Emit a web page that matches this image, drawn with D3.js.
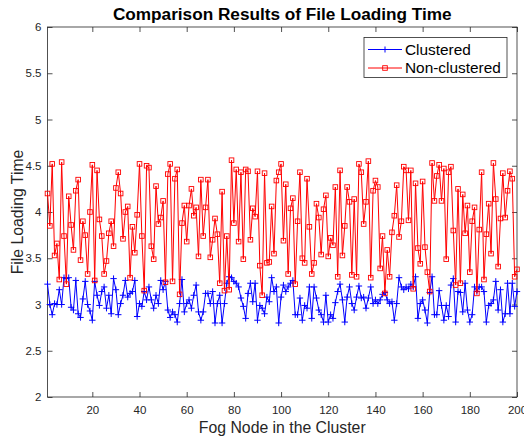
<!DOCTYPE html>
<html><head><meta charset="utf-8">
<script src="https://cdn.jsdelivr.net/npm/d3@7/dist/d3.min.js"></script>
<style>body{margin:0;background:#fff}svg{display:block;font-family:"Liberation Sans",Arial,sans-serif}</style>
</head><body><svg id="c" width="524" height="441"></svg>
<script>
const clustered = [
3.22,3.00,2.89,3.01,3.00,3.16,3.00,3.29,3.28,3.29,2.97,2.94,3.26,2.90,2.86,3.06,3.25,3.00,2.93,2.83,
3.25,3.10,2.99,3.14,3.19,2.96,3.10,2.90,3.28,3.16,2.89,3.01,3.10,3.26,3.08,3.12,3.14,3.26,2.87,3.01,
2.98,3.14,3.05,3.19,3.05,2.96,3.10,3.01,3.26,3.16,3.25,2.94,2.86,2.92,2.89,2.81,3.01,3.27,2.92,3.01,
3.05,2.96,3.10,3.21,2.92,2.83,2.92,3.12,3.12,3.01,3.14,2.80,3.01,3.10,2.80,3.01,3.23,3.30,3.29,3.25,
3.23,3.19,3.07,2.98,2.85,3.12,3.23,3.03,3.23,2.83,2.99,2.96,2.90,3.08,3.03,3.29,3.14,3.19,2.80,3.08,
3.21,3.14,3.19,3.23,3.26,2.89,2.89,3.07,2.83,2.99,2.96,3.19,2.85,3.19,3.07,2.94,2.89,2.81,3.10,2.81,2.89,
2.85,3.02,3.14,3.22,3.05,2.81,3.08,3.19,3.01,2.94,3.08,3.20,3.07,3.08,2.96,3.07,3.19,3.01,3.05,3.01,
3.05,3.11,3.13,3.05,3.01,3.03,2.83,3.01,3.29,3.19,3.16,3.19,3.17,3.22,3.19,3.30,2.85,3.01,3.05,2.94,2.80,
3.13,3.30,2.89,2.89,3.15,2.99,2.83,2.99,2.87,3.21,3.28,2.81,3.14,3.13,2.92,3.23,2.94,2.81,2.89,
3.19,3.14,3.19,3.19,3.14,2.81,2.99,3.01,3.05,3.25,2.94,3.16,2.81,2.90,3.23,2.90,3.23,2.98,3.14];
const nonClustered = [
4.20,3.85,4.52,3.53,3.66,3.27,4.54,3.74,3.22,4.17,3.86,3.59,4.23,4.35,3.48,3.90,3.75,3.33,4.00,4.51,
3.26,4.45,3.92,3.74,3.33,3.47,3.77,3.90,3.63,4.26,4.43,4.20,3.71,4.00,4.06,3.29,3.84,3.56,3.97,4.52,
3.74,3.15,4.50,4.48,3.63,3.49,4.28,3.87,3.94,4.12,3.24,4.41,4.52,3.25,4.36,4.46,3.11,3.88,4.07,3.68,
4.07,4.25,3.96,4.05,3.52,4.35,3.74,4.05,4.35,3.51,3.70,3.93,3.76,3.23,4.22,3.15,3.74,3.16,4.56,3.88,
4.46,3.68,4.43,3.49,4.46,4.44,3.70,4.04,3.95,4.44,3.42,3.10,4.42,3.45,3.46,4.06,3.55,4.34,4.43,4.52,
3.69,4.30,3.33,4.04,4.15,3.22,3.90,4.43,3.50,3.45,4.36,3.84,3.33,3.45,4.09,3.94,3.54,4.03,4.18,3.52,3.72,
3.64,4.27,3.30,4.45,3.53,3.85,4.27,4.11,3.32,4.14,3.30,4.52,4.43,3.87,4.11,4.55,3.29,4.23,4.34,4.27,
3.39,3.74,3.12,3.59,3.30,3.78,3.96,4.29,3.73,3.90,4.49,4.45,3.91,4.45,3.17,4.31,3.61,3.44,4.33,3.62,3.35,
3.14,4.53,4.12,4.39,4.51,4.12,4.47,3.49,4.43,4.49,3.80,3.21,4.25,3.23,4.19,3.77,4.07,3.35,3.90,
4.05,3.12,3.81,4.43,3.27,3.76,4.09,3.55,4.53,4.14,3.41,3.93,4.42,3.94,4.23,4.44,4.36,3.30,3.38];
const xTicks = [20,40,60,80,100,120,140,160,180,200];
const yTicks = [2,2.5,3,3.5,4,4.5,5,5.5,6];
const seriesNames = ["Clustered","Non-clustered"];
const seriesColors = ["#0000ff","#ff0000"];
const title = "Comparison Results of File Loading Time";
const xLabel = "Fog Node in the Cluster";
const yLabel = "File Loading Time";

const L=47.5, R=517, T=27, B=397;
const svg=d3.select("#c");
const x=d3.scaleLinear().domain([1,200]).range([L,R]);
const y=d3.scaleLinear().domain([2,6]).range([B,T]);
const axisColor="#262626";
const tl=5;

const gx=svg.append("g").attr("transform",`translate(0,${B})`)
  .call(d3.axisBottom(x).tickValues(xTicks).tickSizeInner(-tl).tickSizeOuter(0).tickPadding(9));
const gy=svg.append("g").attr("transform",`translate(${L},0)`)
  .call(d3.axisLeft(y).tickValues(yTicks).tickFormat(d=>d3.format("")(d)).tickSizeInner(-tl).tickSizeOuter(0).tickPadding(6));
const gxt=svg.append("g").attr("transform",`translate(0,${T})`)
  .call(d3.axisTop(x).tickValues(xTicks).tickSizeInner(-tl).tickSizeOuter(0).tickFormat(""));
const gyr=svg.append("g").attr("transform",`translate(${R},0)`)
  .call(d3.axisRight(y).tickValues(yTicks).tickSizeInner(-tl).tickSizeOuter(0).tickFormat(""));
[gx,gy,gxt,gyr].forEach(g=>{
  g.select(".domain").remove();
  g.selectAll("line").attr("stroke",axisColor).attr("stroke-width",0.8);
  g.selectAll("text").attr("fill",axisColor).attr("font-size",11.5).attr("font-family","Liberation Sans, Arial, sans-serif");
});
svg.append("rect").attr("x",L).attr("y",T).attr("width",R-L).attr("height",B-T)
  .attr("fill","none").attr("stroke",axisColor).attr("stroke-width",0.8);

const line=d3.line().x((d,i)=>x(i+1)).y(d=>y(d));
const plot=svg.append("g");
plot.append("path").datum(clustered).attr("d",line).attr("fill","none").attr("stroke",seriesColors[0]).attr("stroke-width",1);
plot.selectAll(".cm").data(clustered).enter().append("path").attr("class","cm")
  .attr("d",(d,i)=>{const cx=x(i+1),cy=y(d),s=3.2;return `M${cx-s},${cy}H${cx+s}M${cx},${cy-s}V${cy+s}`;})
  .attr("stroke",seriesColors[0]).attr("stroke-width",1).attr("fill","none");
plot.append("path").datum(nonClustered).attr("d",line).attr("fill","none").attr("stroke",seriesColors[1]).attr("stroke-width",1);
plot.selectAll(".nm").data(nonClustered).enter().append("rect").attr("class","nm")
  .attr("x",(d,i)=>x(i+1)-2.3).attr("y",d=>y(d)-2.3).attr("width",4.6).attr("height",4.6)
  .attr("fill","none").attr("stroke",seriesColors[1]).attr("stroke-width",0.9);

svg.append("text").attr("x",(L+R)/2).attr("y",20).attr("text-anchor","middle")
  .attr("font-weight","bold").attr("font-size",17.2).attr("fill","#000").text(title);
svg.append("text").attr("x",(L+R)/2).attr("y",433).attr("text-anchor","middle")
  .attr("font-size",15.8).attr("fill",axisColor).text(xLabel);
svg.append("text").attr("transform",`translate(23,${(T+B)/2}) rotate(-90)`).attr("text-anchor","middle")
  .attr("font-size",15.8).attr("fill",axisColor).text(yLabel);

const lg=svg.append("g");
lg.append("rect").attr("x",364).attr("y",37.5).attr("width",143).attr("height",40)
  .attr("fill","#fff").attr("stroke",axisColor).attr("stroke-width",0.8);
seriesNames.forEach((n,k)=>{
  const ly=49.5+k*18.5;
  lg.append("line").attr("x1",368).attr("x2",402).attr("y1",ly).attr("y2",ly).attr("stroke",seriesColors[k]).attr("stroke-width",1);
  if(k===0){
    lg.append("path").attr("d",`M382,${ly}H388M385,${ly-3}V${ly+3}`).attr("stroke",seriesColors[k]).attr("stroke-width",1);
  } else {
    lg.append("rect").attr("x",382.7).attr("y",ly-2.3).attr("width",4.6).attr("height",4.6).attr("fill","none").attr("stroke",seriesColors[k]).attr("stroke-width",0.9);
  }
  lg.append("text").attr("x",405).attr("y",ly+5.3).attr("font-size",15.4).attr("fill","#000").text(n);
});
</script></body></html>
